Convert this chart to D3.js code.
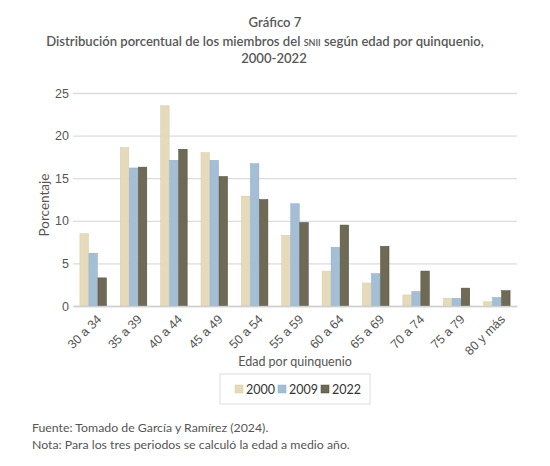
<!DOCTYPE html>
<html><head><meta charset="utf-8">
<script src="https://cdn.jsdelivr.net/npm/d3@7"></script>
<style>
body{margin:0;background:#fff;}
svg{display:block;font-family:Lato,"Noto Sans",sans-serif;}
</style></head>
<body><svg id="c" width="550" height="466"></svg>
<script>
const categories = ["30 a 34","35 a 39","40 a 44","45 a 49","50 a 54","55 a 59","60 a 64","65 a 69","70 a 74","75 a 79","80 y más"];
const seriesNames = ["2000","2009","2022"];
const values2000 = [8.5,18.6,23.5,18.0,12.9,8.3,4.1,2.7,1.3,0.9,0.5];
const values2009 = [6.2,16.2,17.1,17.1,16.7,12.0,6.9,3.8,1.7,0.9,1.0];
const values2022 = [3.3,16.3,18.4,15.2,12.5,9.8,9.5,7.0,4.1,2.1,1.8];
const yTicks = [0,5,10,15,20,25];
const colors = ["#e5dbbb","#a4bed6","#6f6a56"];
const strokes = ["#d6cba6","#8fabc4","#4f4b3c"];

const seriesValues = [values2000, values2009, values2022];
const svg = d3.select("#c");
const L = 73, R = 517, T = 93, B = 306;
const textCol = "#555";

const x0 = d3.scaleBand().domain(categories).range([L, R]).paddingInner(0.33).paddingOuter(0.165);
const x1 = d3.scaleBand().domain(seriesNames).range([0, x0.bandwidth()]);
const y = d3.scaleLinear().domain([0, 25]).range([B, T]);

// gridlines
const yAxis = d3.axisLeft(y).tickValues(yTicks).tickSize(-(R - L)).tickPadding(4);
const gy = svg.append("g").attr("transform", `translate(${L},0)`).call(yAxis);
gy.select(".domain").remove();
gy.selectAll(".tick line").attr("stroke", "#dcdcdc").attr("stroke-width", 1.3);
gy.selectAll(".tick text").attr("fill", textCol).attr("font-size", 12.5);

// bars
const groups = svg.append("g").selectAll("g").data(categories).join("g")
  .attr("transform", d => `translate(${x0(d)},0)`);
groups.selectAll("rect").data((d, i) => seriesNames.map((s, j) => ({s, j, v: seriesValues[j][i]})))
  .join("rect")
  .attr("x", d => x1(d.s) + 0.25)
  .attr("width", x1.bandwidth() - 0.5)
  .attr("y", d => y(d.v))
  .attr("height", d => y(0) - y(d.v))
  .attr("fill", d => colors[d.j])
  .attr("stroke", d => strokes[d.j])
  .attr("stroke-width", 0.5);

// x axis
const xAxis = d3.axisBottom(x0).tickSize(0).tickPadding(0);
const gx = svg.append("g").attr("transform", `translate(0,${B})`).call(xAxis);
gx.select(".domain").attr("stroke", "#cfcfcf").attr("stroke-width", 1.3);
gx.selectAll(".tick text")
  .attr("fill", textCol).attr("font-size", 12.5)
  .attr("text-anchor", "end")
  .attr("dy", "0.35em")
  .attr("transform", "translate(6,11) rotate(-45)");

// axis titles
svg.append("text").attr("x", (L + R) / 2).attr("y", 366).attr("text-anchor", "middle")
  .attr("fill", textCol).attr("font-size", 12.5).text("Edad por quinquenio");
svg.append("text").attr("transform", `translate(49,205) rotate(-90)`).attr("text-anchor", "middle")
  .attr("fill", textCol).attr("font-size", 13.5).text("Porcentaje");

// title
const title = svg.append("g").attr("fill", "#575757").attr("font-weight", 600).attr("font-size", 13.1).attr("text-anchor", "middle");
title.append("text").attr("x", 275).attr("y", 27).text("Gráfico 7");
const t2 = title.append("text").attr("x", 265).attr("y", 46);
t2.append("tspan").text("Distribución porcentual de los miembros del ");
t2.append("tspan").attr("font-variant", "small-caps").style("font-variant", "small-caps").text("snii");
t2.append("tspan").text(" según edad por quinquenio,");
title.append("text").attr("x", 274).attr("y", 63).text("2000-2022");

// legend
const lg = svg.append("g");
lg.append("rect").attr("x", 220).attr("y", 374).attr("width", 150).attr("height", 30)
  .attr("fill", "#fff").attr("stroke", "#dcdcdc").attr("stroke-width", 1);
const legX = [235, 278, 321];
seriesNames.forEach((s, j) => {
  lg.append("rect").attr("x", legX[j]).attr("y", 385).attr("width", 8).attr("height", 8)
    .attr("fill", colors[j]).attr("stroke", strokes[j]).attr("stroke-width", 0.5);
  lg.append("text").attr("x", legX[j] + 11).attr("y", 393.5).attr("fill", "#333")
    .attr("font-size", 12.5).text(s);
});

// footer
const foot = svg.append("g").attr("fill", textCol).attr("font-size", 12.3);
foot.append("text").attr("x", 32).attr("y", 432).text("Fuente: Tomado de García y Ramírez (2024).");
foot.append("text").attr("x", 32).attr("y", 449).text("Nota: Para los tres periodos se calculó la edad a medio año.");
</script></body></html>
